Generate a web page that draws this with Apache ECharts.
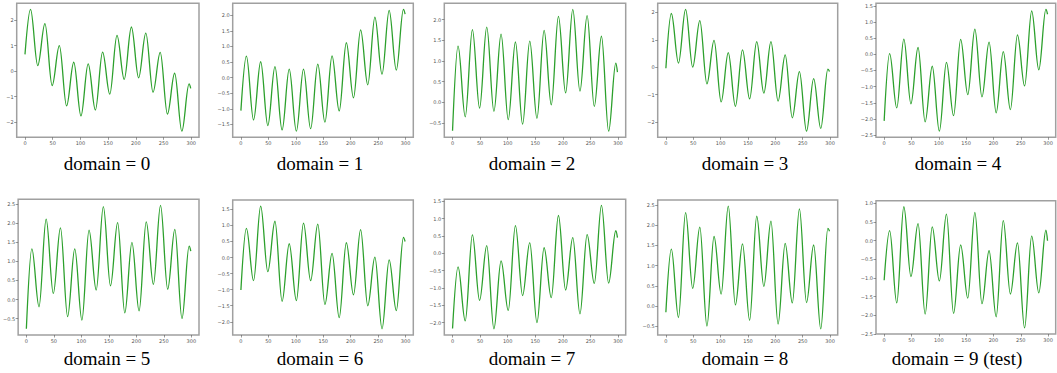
<!DOCTYPE html>
<html><head><meta charset="utf-8">
<script src="https://cdn.jsdelivr.net/npm/echarts@6/dist/echarts.min.js"></script>
<style>html,body{margin:0;padding:0;background:#fff}#c{width:1057px;height:373px}</style>
</head><body><div id="c"></div>
<script>
// x positions of start, alternating peaks/troughs, end
const xPositions = [0,10,23,36,49,62,75,88,101,114,127,140,153,166,179,192,205,218,231,244,257,270,283,296,299];
const xTicks = [0,50,100,150,200,250,300];
const domainLabels = ['domain = 0','domain = 1','domain = 2','domain = 3','domain = 4','domain = 5','domain = 6','domain = 7','domain = 8','domain = 9 (test)'];

const domain0 = [0.66,2.42,0.22,1.86,-0.56,1.0,-1.36,0.35,-1.75,0.29,-1.52,0.75,-0.9,1.4,-0.32,1.73,-0.26,1.49,-0.82,0.74,-1.68,-0.08,-2.35,-0.5,-0.67];
const domain1 = [-1.06,0.69,-1.36,0.51,-1.54,0.35,-1.68,0.27,-1.72,0.27,-1.64,0.43,-1.43,0.70,-1.07,1.12,-0.65,1.53,-0.23,1.94,0.11,2.16,0.24,2.19,2.04];
const domain2 = [-0.69,1.36,-0.35,1.76,-0.14,1.82,-0.22,1.65,-0.42,1.46,-0.53,1.48,-0.39,1.74,-0.06,2.08,0.23,2.25,0.27,2.10,-0.10,1.60,-0.70,0.95,0.73];
const domain3 = [-0.04,1.96,0.15,2.11,0.0,1.70,-0.61,0.98,-1.27,0.53,-1.43,0.63,-1.16,0.93,-0.95,0.93,-1.24,0.45,-1.85,-0.16,-2.34,-0.42,-2.24,-0.07,-0.16];
const domain4 = [-2.06,0.02,-1.66,0.47,-1.53,0.21,-2.09,-0.37,-2.38,-0.25,-1.90,0.46,-1.25,0.78,-1.32,0.38,-1.81,0.08,-1.71,0.60,-0.98,1.34,-0.48,1.39,1.24];
const domain5 = [-0.77,1.33,-0.19,2.11,0.16,1.88,-0.45,1.33,-0.54,1.82,0.25,2.44,0.36,2.02,-0.35,1.50,-0.30,2.04,0.40,2.47,0.27,1.84,-0.50,1.40,1.27];
const domain6 = [-1.01,0.91,-0.72,1.60,-0.44,1.13,-1.36,0.43,-1.34,1.07,-0.72,1.04,-1.46,0.13,-1.87,0.46,-1.16,0.87,-1.50,0.01,-2.22,-0.07,-1.65,0.63,0.50];
const domain7 = [-2.17,-0.39,-1.95,0.53,-1.36,0.22,-2.18,-0.22,-1.65,0.80,-1.22,0.31,-2.00,0.16,-1.28,1.09,-1.06,0.45,-1.75,0.54,-0.87,1.38,-0.86,0.65,0.45];
const domain8 = [-0.15,1.41,-0.28,2.31,0.44,1.95,-0.49,1.72,0.30,2.47,0.03,1.54,-0.35,2.22,0.49,2.10,-0.44,1.55,0.08,2.40,0.09,1.51,-0.56,1.92,1.85];
const domain9 = [-1.06,0.27,-1.67,0.91,-0.96,0.46,-1.97,0.37,-1.08,0.71,-1.95,-0.11,-1.54,0.76,-1.69,-0.27,-2.04,0.54,-1.43,-0.06,-2.34,0.12,-1.40,0.28,0.0];

const yTicks0 = [-2,-1,0,1,2];
const yTicks1 = [-1.5,-1.0,-0.5,0.0,0.5,1.0,1.5,2.0];
const yTicks2 = [-0.5,0.0,0.5,1.0,1.5,2.0];
const yTicks3 = [-2,-1,0,1,2];
const yTicks4 = [-2.5,-2.0,-1.5,-1.0,-0.5,0.0,0.5,1.0,1.5];
const yTicks5 = [-0.5,0.0,0.5,1.0,1.5,2.0,2.5];
const yTicks6 = [-2.0,-1.5,-1.0,-0.5,0.0,0.5,1.0,1.5];
const yTicks7 = [-2.0,-1.5,-1.0,-0.5,0.0,0.5,1.0,1.5];
const yTicks8 = [-0.5,0.0,0.5,1.0,1.5,2.0,2.5];
const yTicks9 = [-2.5,-2.0,-1.5,-1.0,-0.5,0.0,0.5,1.0];
const yTickDecimals = [0,1,1,0,1,1,1,1,1,1];

const seriesValues = [domain0,domain1,domain2,domain3,domain4,domain5,domain6,domain7,domain8,domain9];
const yTickSets = [yTicks0,yTicks1,yTicks2,yTicks3,yTicks4,yTicks5,yTicks6,yTicks7,yTicks8,yTicks9];

// layout (pixels): left, top, width, height of each plot box
const boxes = [
  [16.7,3.3,182.3,134],[232.7,3.3,180.6,134],[444.3,3.3,181.4,134],[657.7,3.3,180,134],[876,3.3,179.7,134],
  [16,199.3,183,135.7],[232.7,200,180.6,135],[444.3,199.3,181.4,135.7],[657.7,200,180,135],[876,200.7,179.7,133.3]
];
const labelPos = [[107,163],[320,163],[532,163],[745,163],[958,163],[107,358],[320,358],[532,358],[745,358],[957,358]];

const grids=[], xAxes=[], yAxes=[], series=[], graphics=[];
const xMin = 0, xMax = 299, xPad = (xMax - xMin) * 0.05;
seriesValues.forEach((vals, i) => {
  const b = boxes[i];
  grids.push({left:b[0], top:b[1], width:b[2], height:b[3], show:true, borderColor:'#a0a0a0', borderWidth:1.5, backgroundColor:'#fff', containLabel:false});
  const dmin = Math.min(...vals), dmax = Math.max(...vals), pad = (dmax - dmin) * 0.05;
  const dec = yTickDecimals[i];
  xAxes.push({type:'value', gridIndex:i, position:'bottom', min:xMin - xPad, max:xMax + xPad,
    axisLine:{show:false, onZero:false}, splitLine:{show:false},
    axisTick:{show:true, length:2.5, lineStyle:{color:'#555', width:0.6}, customValues:xTicks},
    axisLabel:{fontSize:5, color:'#555', margin:3, fontFamily:'DejaVu Sans', customValues:xTicks,
      formatter: v => String(v)}});
  yAxes.push({type:'value', gridIndex:i, position:'left', min:dmin - pad, max:dmax + pad,
    axisLine:{show:false, onZero:false}, splitLine:{show:false},
    axisTick:{show:true, length:2.5, lineStyle:{color:'#555', width:0.6}, customValues:yTickSets[i]},
    axisLabel:{fontSize:5, color:'#555', margin:3, fontFamily:'DejaVu Sans', customValues:yTickSets[i],
      formatter: v => Number(v).toFixed(dec).replace('-', '\u2212')}});
  series.push({type:'line', xAxisIndex:i, yAxisIndex:i, showSymbol:false, symbol:'none',
    smooth:0.36, smoothMonotone:'x', animation:false, silent:true,
    lineStyle:{color:'#2ca02c', width:1.3},
    data: xPositions.map((x, k) => [x, vals[k]])});
  graphics.push({type:'text', x:labelPos[i][0], y:labelPos[i][1],
    style:{text:domainLabels[i], fontSize:19, fontFamily:'Liberation Serif', fill:'#000', textAlign:'center', textVerticalAlign:'middle'}});
});

const chart = echarts.init(document.getElementById('c'), null, {renderer:'svg'});
chart.setOption({animation:false, backgroundColor:'#fff', grid:grids, xAxis:xAxes, yAxis:yAxes, series:series, graphic:graphics});
</script>
</body></html>
